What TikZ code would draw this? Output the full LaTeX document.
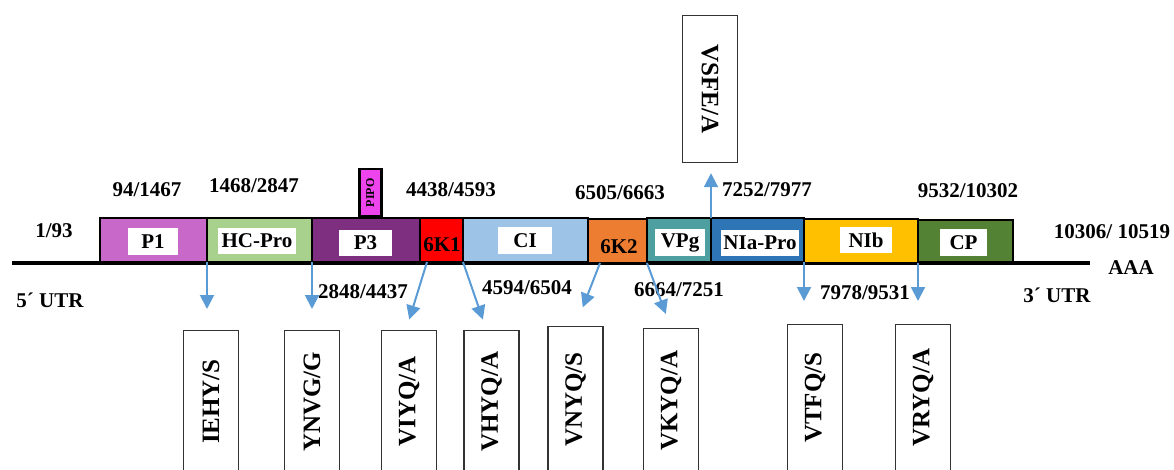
\documentclass[tikz,border=0pt]{standalone}
\usepackage{fontspec}
\setmainfont{Liberation Serif}
\usetikzlibrary{arrows.meta}
\definecolor{cP1}{HTML}{C868C8}
\definecolor{cHC}{HTML}{A9D18E}
\definecolor{cP3}{HTML}{7E2F80}
\definecolor{cKone}{HTML}{FF0000}
\definecolor{cCI}{HTML}{9DC3E6}
\definecolor{cKtwo}{HTML}{ED7D31}
\definecolor{cVPg}{HTML}{4E9F9F}
\definecolor{cNIa}{HTML}{2E75B6}
\definecolor{cNIb}{HTML}{FFC000}
\definecolor{cCP}{HTML}{548235}
\definecolor{cPIPO}{HTML}{EE44EE}
\definecolor{arrowblue}{HTML}{5B9BD5}
\begin{document}
\begin{tikzpicture}[x=1pt,y=-1pt,
  seg/.style={draw=black, line width=2.5pt, anchor=north west, inner sep=0pt, outer sep=0pt, minimum height=44pt},
  tag/.style={fill=white, inner sep=0pt, minimum height=26pt, font=\fontsize{21}{21}\selectfont\bfseries},
  num/.style={font=\fontsize{21}{21}\selectfont\bfseries, inner sep=0pt},
  site/.style={draw=black!80, line width=1.2pt, fill=white, minimum width=55pt, inner sep=0pt, anchor=north, font=\fontsize{25}{25}\selectfont\bfseries},
  cut/.style={draw=arrowblue, line width=2pt, -{Triangle[length=14pt,width=14pt]}},
]
\useasboundingbox (0,0) rectangle (1174,470);

% genome backbone
\coordinate (l0) at (12,263);
\coordinate (l1) at (1090,263);
\draw[line width=4pt] (l0) -- (l1);

% polyprotein segments
\node[seg, fill=cP1,   minimum width=107pt] (p1)  at (100,218) {};
\node[seg, fill=cHC,   minimum width=105pt] (hc)  at (207,218) {};
\node[seg, fill=cP3,   minimum width=108pt] (p3)  at (312,218) {};
\node[seg, fill=cKone, minimum width=43pt]  (k1)  at (420,218) {};
\node[seg, fill=cCI,   minimum width=125pt] (ci)  at (463,218) {};
\node[seg, fill=cKtwo, minimum width=59pt]  (k2)  at (588,219) {};
\node[seg, fill=cVPg,  minimum width=64pt]  (vpg) at (647,218) {};
\node[seg, fill=cNIa,  minimum width=93pt]  (nia) at (711,218) {};
\node[seg, fill=cNIb,  minimum width=114pt] (nib) at (804,219) {};
\node[seg, fill=cCP,   minimum width=95pt, minimum height=42pt] (cp) at (918,220) {};

% PIPO frame
\node[draw=black, line width=2.5pt, fill=cPIPO, anchor=north west, inner sep=0pt,
      minimum width=22pt, minimum height=47pt] (pipo) at (358,168)
      {\rotatebox{90}{\fontsize{12}{12}\selectfont\bfseries PIPO}};

% segment names
\node[tag, minimum width=50pt] (tp1)  at (153,241.5) {P1};
\node[tag, minimum width=78pt] (thc)  at (257,241)   {HC-Pro};
\node[tag, minimum width=53pt] (tp3)  at (365.5,243) {P3};
\node[num] (tk1) at (442,245) {6K1};
\node[tag, minimum width=54pt] (tci)  at (525,240.5) {CI};
\node[num] (tk2) at (619,247) {6K2};
\node[tag, minimum width=50pt] (tvpg) at (680,242.5) {VPg};
\node[tag, minimum width=78pt] (tnia) at (760,243)   {NIa-Pro};
\node[tag, minimum width=52pt] (tnib) at (866,240)   {NIb};
\node[tag, minimum width=47pt] (tcp)  at (963.5,242.5) {CP};

% nucleotide positions
\node[num] (n1)  at (54,231)   {1/93};
\node[num] (n2)  at (147,190)  {94/1467};
\node[num] (n3)  at (254,186)  {1468/2847};
\node[num] (n4)  at (451,190)  {4438/4593};
\node[num] (n5)  at (620,193)  {6505/6663};
\node[num] (n6)  at (767,190)  {7252/7977};
\node[num] (n7)  at (968,191)  {9532/10302};
\node[num] (n8)  at (1112,232) {10306/ 10519};
\node[num] (n9)  at (363,292)  {2848/4437};
\node[num] (n10) at (527,288)  {4594/6504};
\node[num] (n11) at (679,290)  {6664/7251};
\node[num] (n12) at (865,293)  {7978/9531};
\node[num] (aaa) at (1131,268) {AAA};
\node[num] (u5)  at (50,300)   {5´ UTR};
\node[num] (u3)  at (1057,295) {3´ UTR};

% cleavage-site boxes
\node[site, minimum height=147pt] (vsfe) at (710,15)  {\rotatebox{-90}{VSFE/A}};
\node[site, minimum height=142pt] (iehy) at (211,330) {\rotatebox{90}{IEHY/S}};
\node[site, minimum height=142pt] (ynvg) at (312,330) {\rotatebox{90}{YNVG/G}};
\node[site, minimum height=142pt] (viyq) at (409,330) {\rotatebox{90}{VIYQ/A}};
\node[site, minimum height=142pt] (vhyq) at (491.5,330) {\rotatebox{90}{VHYQ/A}};
\node[site, minimum height=146pt] (vnyq) at (575.5,326) {\rotatebox{90}{VNYQ/S}};
\node[site, minimum height=144pt] (vkyq) at (671,328) {\rotatebox{90}{VKYQ/A}};
\node[site, minimum height=146pt] (vtfq) at (815,324) {\rotatebox{90}{VTFQ/S}};
\node[site, minimum height=146pt] (vryq) at (923,324) {\rotatebox{90}{VRYQ/A}};

% cleavage arrows
\coordinate (c3) at ([xshift=7pt]k1.south west);
\coordinate (c5) at ([xshift=12pt]k2.south west);
\draw[cut, shorten >=21pt] (p1.south east) -- (p1.south east |- iehy.north);
\draw[cut, shorten >=21pt] (hc.south east) -- (hc.south east |- ynvg.north);
\draw[cut, shorten >=11pt] (c3) -- ([xshift=-3pt]viyq.north);
\draw[cut, shorten >=11pt] (k1.south east) -- ([xshift=-5pt]vhyq.north);
\draw[cut, shorten >=20pt] (c5) -- (vnyq.north);
\draw[cut, shorten >=15pt] (k2.south east) -- (vkyq.north);
\draw[cut, shorten >=10pt] (vpg.north east) -- (vpg.north east |- vsfe.south);
\draw[cut, shorten >=23pt] (nia.south east) -- (nia.south east |- vtfq.north);
\draw[cut, shorten >=23pt] (nib.south east) -- (nib.south east |- vryq.north);
\end{tikzpicture}
\end{document}
